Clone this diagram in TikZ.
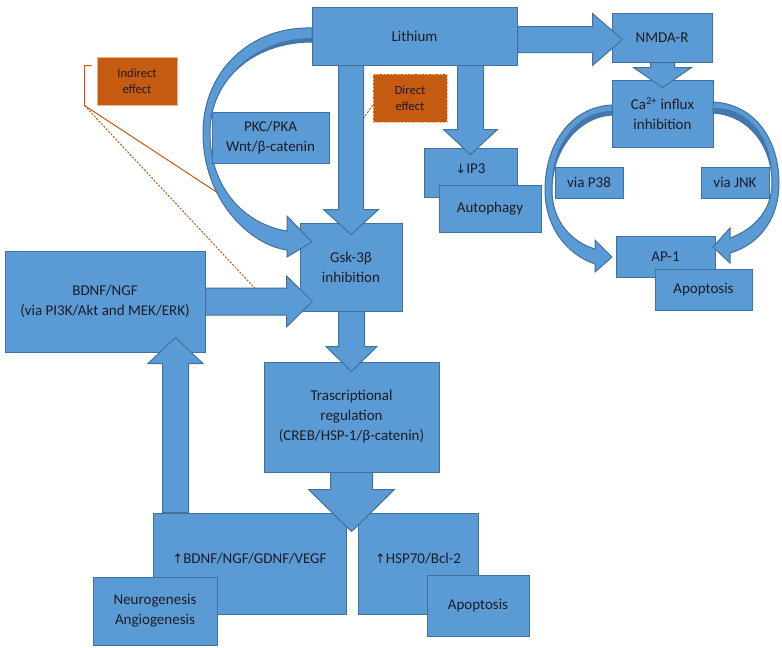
\documentclass[tikz,border=0pt]{standalone}
\usepackage{fontspec}
\setmainfont{Carlito}
\newfontfamily\arrowfont{DejaVu Sans}
\usetikzlibrary{calc}
\definecolor{bfill}{HTML}{5B9BD5}
\definecolor{bline}{HTML}{41719C}
\definecolor{bdark}{HTML}{4477AE}
\definecolor{ofill}{HTML}{C55A11}
\definecolor{oline}{HTML}{F4B183}
\definecolor{txt}{HTML}{1C1C24}
\tikzset{
  box/.style={draw=bline, fill=bfill, line width=1pt, text=txt, align=center, inner sep=0pt,
    font=\fontsize{15}{20}\selectfont},
  obox/.style={draw=oline, fill=ofill, line width=1pt, text=txt, align=center, inner sep=0pt,
    font=\fontsize{12.5}{16}\selectfont},
  odashbox/.style={obox, dash pattern=on 2pt off 1.5pt},
  arr/.style={draw=bline, fill=bfill, line width=1pt, line join=miter},
  curv/.style={draw=bline, fill=bfill, line width=1pt},
  oline/.style={draw=ofill, line width=1pt},
  odash/.style={draw=ofill, line width=1pt, dash pattern=on 2pt off 1.5pt},
}
\newcommand{\mybox}[7]{\node[#1, minimum width={(#5-#3)*1pt}, minimum height={(#6-#4)*1pt}] (#2) at ({(#3+#5)/2},{(#4+#6)/2}) {#7};}
% start, tip, shaft half width, head half width, head length
\newcommand{\barrow}[5]{%
  \path ($(#2)!#5!(#1)$) coordinate (bh);
  \filldraw[arr] ($(#1)!#3!90:(#2)$) -- ($(bh)!#3!90:(#2)$) -- ($(bh)!#4!90:(#2)$) -- (#2)
    -- ($(bh)!#4!-90:(#2)$) -- ($(bh)!#3!-90:(#2)$) -- ($(#1)!#3!-90:(#2)$) -- cycle;}
\newcommand{\up}{{\arrowfont\fontsize{13}{13}\selectfont ↑}}
\newcommand{\down}{{\arrowfont\fontsize{13}{13}\selectfont ↓}}
\begin{document}
\begin{tikzpicture}[x=1pt,y=-1pt]
\useasboundingbox (0,0) rectangle (782,648);
\fill[white] (0,0) rectangle (782,648);

% left part
\mybox{box}{bdnf}{5}{251}{205}{352}{BDNF/NGF\\(via PI3K/Akt and MEK/ERK)}
\mybox{box}{gsk}{300}{223}{402}{311}{Gsk-3β\\inhibition}

% Lithium curved arrow
\filldraw[curv] (312,28) .. controls (252,26) and (203,70) .. (203,133)
  .. controls (203,200) and (250,245) .. (287,250) -- (287,257) -- (312,242) -- (287,216) -- (287,231)
  .. controls (252,226) and (210,195) .. (210,133) .. controls (210,78) and (255,42) .. (312,42) -- cycle;
\fill[bdark] (312,42) .. controls (255,42) and (210,78) .. (210,133)
  .. controls (208,86) and (250,38) .. (312,38) -- cycle;

\mybox{box}{lith}{312}{7}{517}{65}{Lithium}
\mybox{box}{pkc}{212}{112}{329}{163}{PKC/PKA\\Wnt/β-catenin}

% effect labels
\mybox{odashbox}{direct}{373}{74}{447}{122}{Direct\\effect}
\mybox{obox}{indirect}{97}{57}{177}{105}{Indirect\\effect}
\coordinate (ib) at ($(indirect.south west)+(-12,0)$);
\coordinate (itop) at ($(indirect.north west)+(-5,9)$);
\coordinate (isol) at (218,193);
\coordinate (idash) at (263,297);
\draw[oline] (itop) -- (itop -| ib) -- (ib) -- (isol);
\draw[odash] (ib) -- (idash);
\coordinate (dstart) at ($(direct.south west)+(0,-17)$);
\coordinate (dend) at (353,133);
\draw[odash] (dstart) -- (dend);

% right part
\mybox{box}{nmda}{612}{13}{712}{62}{NMDA-R}
\mybox{box}{ca}{612}{80}{713}{147}{Ca\textsuperscript{2+} influx\\inhibition}
\coordinate (t1) at ($(nmda.west)+(11,2)$);
\barrow{lith.east |- t1}{t1}{13pt}{26pt}{30pt}
\coordinate (t2) at ($(ca.north)+(0,8)$);
\barrow{nmda.south -| t2}{t2}{12pt}{29pt}{20pt}

% IP3 / autophagy
\mybox{box}{ip3}{424}{148}{517}{197}{\raisebox{8pt}{\down IP3}}
\mybox{box}{auto}{439}{185}{541}{232}{Autophagy}
\coordinate (t3) at ($(ip3.north)+(0,7)$);
\barrow{lith.south -| t3}{t3}{13pt}{27pt}{25pt}

% arrows into Gsk
\coordinate (t4) at ($(gsk.north)+(0,12)$);
\barrow{lith.south -| t4}{t4}{12.5pt}{27.5pt}{25pt}
\coordinate (t5) at ($(gsk.west |- bdnf.east)+(13,0)$);
\barrow{bdnf.east}{t5}{13.5pt}{25.5pt}{26pt}

% AP-1 area
\mybox{box}{p38}{555}{167}{623}{198}{via P38}
\mybox{box}{jnk}{701}{167}{769}{198}{via JNK}
\mybox{box}{ap1}{616}{236}{715}{277}{AP-1}
\mybox{box}{apo1}{655}{269}{752}{310}{Apoptosis}

\filldraw[curv] (612,105) .. controls (570,107) and (545,145) .. (545,190)
  .. controls (545,228) and (568,255) .. (595,264) -- (595,272) -- (612,257) -- (595,240) -- (595,249)
  .. controls (572,242) and (552,222) .. (552,190) .. controls (552,150) and (578,117) .. (612,115) -- cycle;
\fill[bdark] (612,115) .. controls (578,117) and (552,150) .. (552,190)
  .. controls (550,148) and (575,111) .. (612,111) -- cycle;
\filldraw[curv] (713,102) .. controls (755,104) and (779,140) .. (779,183)
  .. controls (779,220) and (758,245) .. (730,253) -- (730,263) -- (713,247) -- (730,228) -- (730,238)
  .. controls (752,230) and (772,212) .. (772,183) .. controls (772,145) and (748,115) .. (713,113) -- cycle;
\fill[bdark] (713,113) .. controls (748,115) and (772,145) .. (772,183)
  .. controls (774,140) and (750,107) .. (713,108) -- cycle;

% transcription
\mybox{box}{trans}{264}{362}{439}{472}{Trascriptional\\regulation\\(CREB/HSP-1/β-catenin)}
\coordinate (t6) at ($(trans.north)+(0,10)$);
\barrow{gsk.south -| t6}{t6}{13pt}{25.5pt}{25pt}

% bottom
\mybox{box}{up1}{153}{513}{346}{614}{\raisebox{10pt}{\up BDNF/NGF/GDNF/VEGF}}
\mybox{box}{up2}{358}{513}{478}{614}{\raisebox{10pt}{\up HSP70/Bcl-2}}
\mybox{box}{neuro}{93}{577}{217}{645}{Neurogenesis\\Angiogenesis}
\mybox{box}{apo2}{427}{575}{529}{636}{Apoptosis}
\coordinate (t7) at ($(trans.south)+(0,59)$);
\barrow{trans.south}{t7}{21pt}{43pt}{42pt}
\coordinate (s8) at ($(up1.north west)+(23,0)$);
\coordinate (t8) at ($(bdnf.south -| s8)+(0,-15)$);
\barrow{s8}{t8}{13pt}{27.5pt}{26pt}
\end{tikzpicture}
\end{document}
